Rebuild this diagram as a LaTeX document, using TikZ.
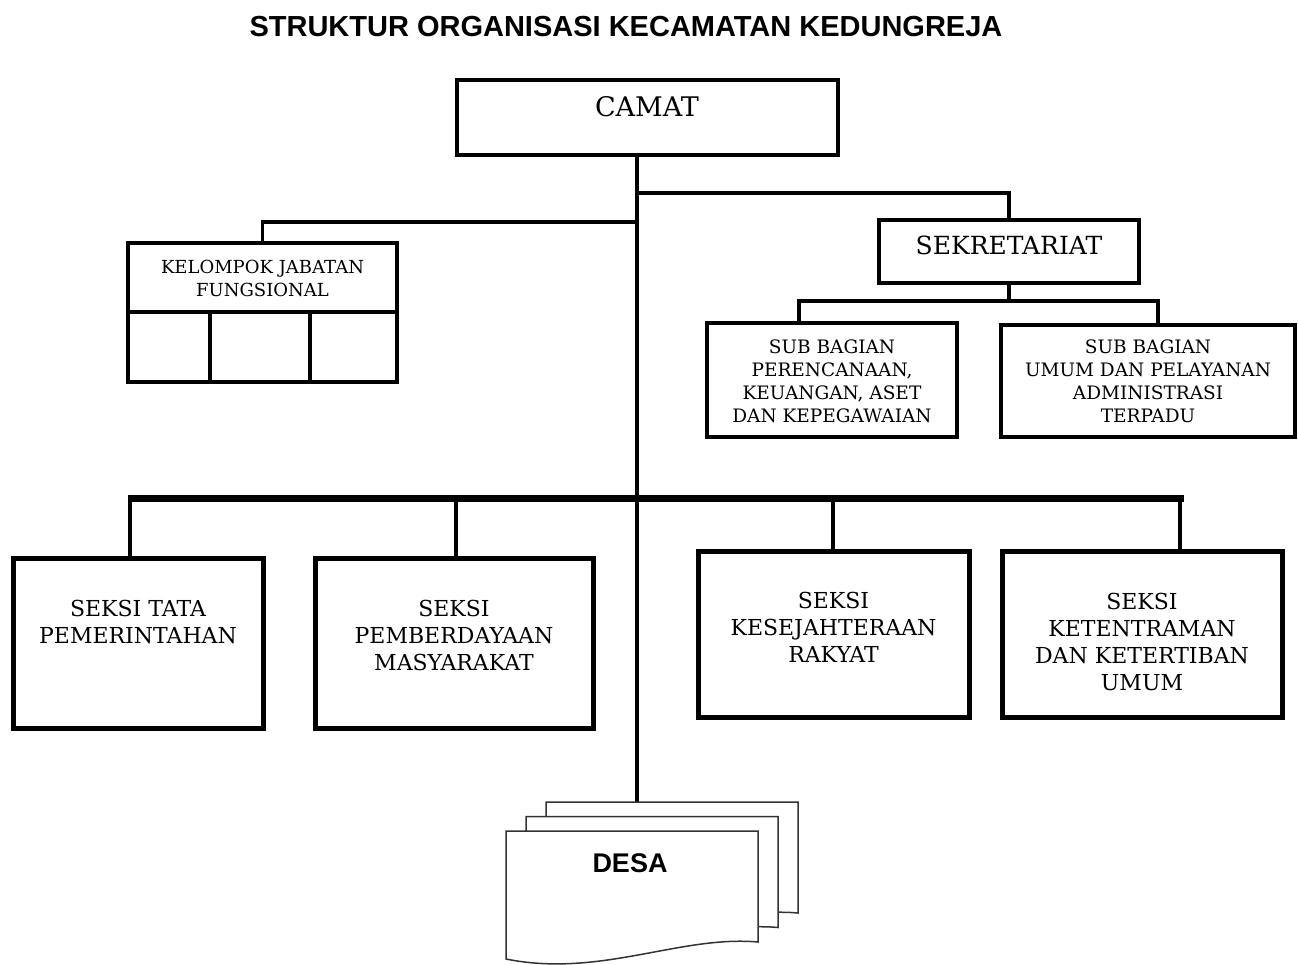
\documentclass[tikz,border=0pt]{standalone}
\usepackage{fontspec}
\setmainfont{DejaVu Serif}
\newfontfamily\titlefont{Liberation Sans}
\begin{document}
\begin{tikzpicture}[x=1pt,y=-1pt,
  box/.style={draw, line width=4.5pt, inner sep=0pt, fill=white},
  conn/.style={line width=4pt},
  thinconn/.style={line width=3.5pt},
  bus/.style={line width=7pt},
  page/.style={draw=black!80, line width=1.5pt, fill=white},
  txt/.style={align=center, inner sep=0pt},
  big/.style={txt, font=\fontsize{27}{32}\selectfont},
  mid/.style={txt, font=\fontsize{22}{27}\selectfont},
  small/.style={txt, font=\fontsize{18.5}{23}\selectfont},
  tiny/.style={txt, font=\fontsize{18}{23}\selectfont}]
\useasboundingbox (0,0) rectangle (1298,964);

% title
\node[txt, font=\titlefont\bfseries\fontsize{29}{34}\selectfont] (title) at (626,27) {STRUKTUR ORGANISASI KECAMATAN KEDUNGREJA};

% coordinates of connectors
\coordinate (tk) at (637,0);
\coordinate (jr) at (637,193);
\coordinate (jl) at (637,222);
\coordinate (desatop) at (637,802);
\coordinate (sb) at (1009,301);
\coordinate (sl) at (799,301);
\coordinate (sr) at (1158,301);
\coordinate (bl) at (128,498);
\coordinate (br) at (1184,498);
\coordinate (b1) at (130,498);
\coordinate (b2) at (456,498);
\coordinate (b3) at (833,498);
\coordinate (b4) at (1180,498);

% boxes
\node[box, minimum width=381, minimum height=75] (camat) at (647.5,117.5) {};
\node[big] (camat-t) at (647,107) {CAMAT};

\node[box, minimum width=260, minimum height=63] (sekr) at (1009,251.5) {};
\node[txt, font=\fontsize{25}{30}\selectfont] (sekr-t) at (1009,245) {SEKRETARIAT};

\node[box, minimum width=269, minimum height=139] (kel) at (262.5,312.5) {};
\coordinate (kd) at (0,312);
\coordinate (kv1) at (210,312);
\coordinate (kv2) at (310,312);
\draw[line width=4.5pt] (kel.west |- kd) -- (kel.east |- kd);
\draw[line width=4.5pt] (kv1) -- (kel.south -| kv1);
\draw[line width=4.5pt] (kv2) -- (kel.south -| kv2);
\node[tiny] (kel-t) at (262.5,278.5) {KELOMPOK JABATAN\\FUNGSIONAL};

\node[box, minimum width=250, minimum height=114] (sub1) at (832,380) {};
\node[small] (sub1-t) at (832,381) {SUB BAGIAN\\PERENCANAAN,\\KEUANGAN, ASET\\DAN KEPEGAWAIAN};

\node[box, minimum width=294, minimum height=112] (sub2) at (1148,381) {};
\node[small] (sub2-t) at (1148,381) {SUB BAGIAN\\UMUM DAN PELAYANAN\\ADMINISTRASI\\TERPADU};

\node[box, line width=5pt, minimum width=250, minimum height=170] (s1) at (138,643) {};
\node[mid] (s1-t) at (138,621.5) {SEKSI TATA\\PEMERINTAHAN};

\node[box, line width=5pt, minimum width=278, minimum height=170] (s2) at (454,643) {};
\node[mid] (s2-t) at (454,635) {SEKSI\\PEMBERDAYAAN\\MASYARAKAT};

\node[box, line width=5pt, minimum width=271, minimum height=166] (s3) at (833.5,634) {};
\node[mid] (s3-t) at (833.5,627.5) {SEKSI\\KESEJAHTERAAN\\RAKYAT};

\node[box, line width=5pt, minimum width=280, minimum height=166] (s4) at (1142,634) {};
\node[mid] (s4-t) at (1142,642) {SEKSI\\KETENTRAMAN\\DAN KETERTIBAN\\UMUM};

% connectors
\draw[conn] (camat.south -| tk) -- (desatop);
\draw[thinconn] (jr) -| (sekr.north);
\draw[thinconn] (jl) -| (kel.north);
\draw[conn] (sekr.south) -- (sb);
\draw[conn] (sub1.north -| sl) -- (sl) -- (sr) -- (sub2.north -| sr);
\draw[bus] (bl) -- (br);
\draw[conn] (b1) -- (s1.north -| b1);
\draw[conn] (b2) -- (s2.north -| b2);
\draw[conn] (b3) -- (s3.north -| b3);
\draw[conn] (b4) -- (s4.north -| b4);

% desa (stacked documents)
\foreach \dx/\dy in {40/-29, 20/-14.5, 0/0} {
  \draw[page, shift={(\dx,\dy)}] (506,831) -- (758,831) -- (758,942)
    .. controls (680,935) and (600,978) .. (506,959) -- cycle;
}
\node[txt, font=\titlefont\bfseries\fontsize{27}{32}\selectfont] (desa) at (630,863) {DESA};
\end{tikzpicture}
\end{document}
